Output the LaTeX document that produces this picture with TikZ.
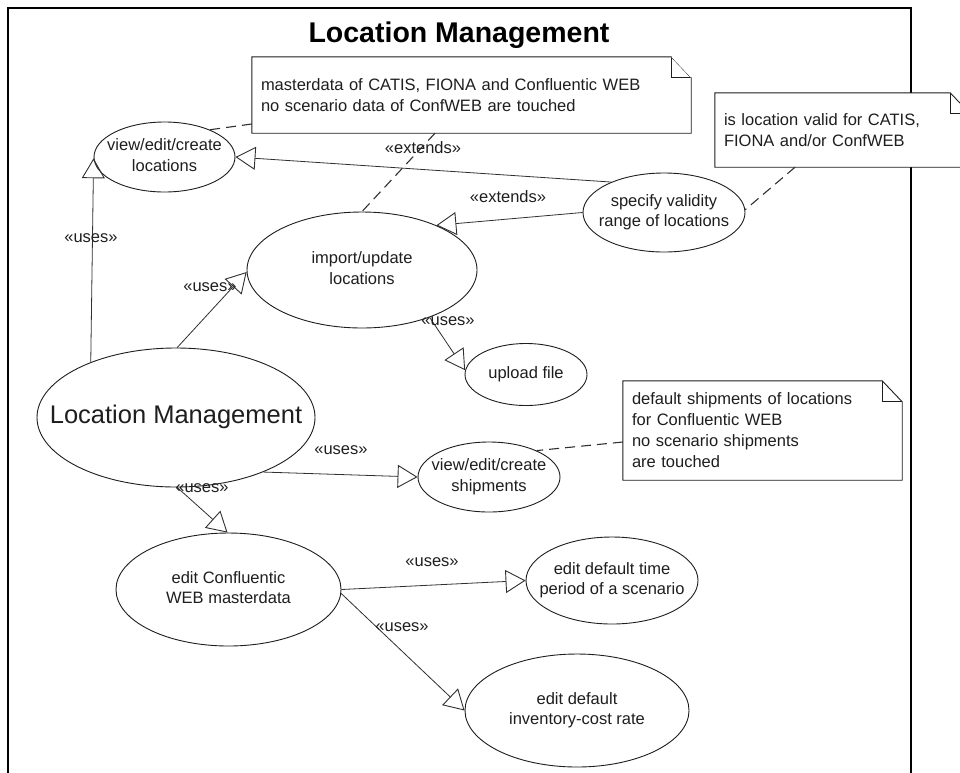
\documentclass[tikz,border=0pt]{standalone}
\usepackage{fontspec}
\setmainfont{Liberation Sans}
\usetikzlibrary{arrows.meta,shapes.geometric}
\definecolor{ink}{HTML}{1E1E1E}
\definecolor{edgecol}{HTML}{303030}
\newcommand\ucfont{\fontsize{16.5pt}{20.5pt}\selectfont}
\newcommand\notefont{\fontsize{16.5pt}{21pt}\selectfont}
\newcommand\uctext[1]{\raisebox{-0.25em}[0pt][0pt]{\makebox[0pt]{\begin{tabular}{@{}c@{}}#1\end{tabular}}}}
\begin{document}
\begin{tikzpicture}[x=1pt,y=-1pt,
 uc/.style={ellipse, draw=ink, line width=0.9pt, fill=white, inner sep=0pt, text=ink, font=\ucfont},
 lbl/.style={text=ink, font=\ucfont, inner sep=0pt},
 uses/.style={draw=edgecol, line width=0.8pt, -{Triangle[open, length=20pt, width=23pt, line width=0.9pt]}},
 dashline/.style={draw=edgecol, line width=1.1pt, dash pattern=on 10pt off 6pt},
 notebox/.style={rectangle, inner xsep=9pt, inner ysep=0pt, align=left, text=ink, font=\notefont},
 noteline/.style={draw=ink, line width=0.9pt, line join=miter}
]
\useasboundingbox (0,0) rectangle (960,772);
\clip (0,0) rectangle (960,772);
\fill[white] (0,0) rectangle (960,772);
% frame
\draw[black, line width=1.6pt] (8,8) rectangle (911,800);
\node[font=\fontsize{28.5pt}{34pt}\selectfont\bfseries, text=black, anchor=base, inner sep=0pt] (title) at (459,42) {Location Management};

% use cases
\node[uc, minimum width=141pt, minimum height=70pt] (vl) at (164.5,157) {\uctext{view/edit/create\\locations}};
\node[uc, minimum width=230pt, minimum height=116pt] (imp) at (362,270) {\uctext{import/update\\locations}};
\node[uc, minimum width=162pt, minimum height=79pt] (spec) at (664,212.5) {\uctext{specify validity\\range of locations}};
\node[uc, minimum width=122pt, minimum height=62pt] (up) at (526,374.5) {\uctext{upload file}};
\node[uc, minimum width=278pt, minimum height=139pt, font=\fontsize{25.5pt}{30pt}\selectfont] (lm) at (176,417.5) {\uctext{Location Management}};
\node[uc, minimum width=142pt, minimum height=70pt] (ship) at (489,477) {\uctext{view/edit/create\\shipments}};
\node[uc, minimum width=225pt, minimum height=113pt] (ecw) at (228.5,589.5) {\uctext{edit Confluentic\\WEB masterdata}};
\node[uc, minimum width=172pt, minimum height=87pt] (time) at (612,580.5) {\uctext{edit default time\\period of a scenario}};
\node[uc, minimum width=224pt, minimum height=113pt] (inv) at (577,710.5) {\uctext{edit default\\inventory-cost rate}};

% relations
\draw[uses] (lm.147.6) -- (vl.181);
\draw[uses] (spec.150) -- (vl.0);
\draw[uses] (spec.180) -- (imp.31.4);
\draw[uses] (lm.89) -- (imp.181);
\draw[uses] (imp.325.6) -- (up.176.7);
\draw[uses] (lm.328.9) -- (ship.180);
\draw[uses] (lm.271.6) -- (ecw.91.5);
\draw[uses] (ecw.0) -- (time.180);
\draw[uses] (ecw.358.2) -- (inv.180);

% labels
\node[lbl] (l1) at (91,238) {«uses»};
\node[lbl] (l2) at (423,148) {«extends»};
\node[lbl] (l3) at (508,197) {«extends»};
\node[lbl] (l4) at (210,287) {«uses»};
\node[lbl] (l5) at (448,321) {«uses»};
\node[lbl] (l6) at (341,450) {«uses»};
\node[lbl] (l7) at (202,488) {«uses»};
\node[lbl] (l8) at (432,562) {«uses»};
\node[lbl] (l9) at (402,627) {«uses»};

% notes
\node[notebox, fill=white, text width=421pt, minimum width=439pt, minimum height=76pt] (n1) at (471.5,95) {masterdata of CATIS, FIONA and Confluentic WEB\\no scenario data of ConfWEB are touched};
\node[notebox, fill=white, text width=237pt, minimum width=255pt, minimum height=74pt] (n2) at (842.5,130) {is location valid for CATIS,\\FIONA and/or ConfWEB};
\node[notebox, fill=white, text width=261pt, minimum width=279pt, minimum height=99pt] (n3) at (762.5,430.5) {default shipments of locations\\for Confluentic WEB\\no scenario shipments\\are touched};
\foreach \n in {n1,n2,n3} {
  \fill[white] ([xshift=-20pt]\n.north east) rectangle ([yshift=-21pt]\n.north east);
  \draw[noteline] (\n.south west) -- (\n.north west) -- ([xshift=-20pt]\n.north east) -- ([yshift=-21pt]\n.north east) -- (\n.south east) -- cycle;
  \draw[noteline] ([xshift=-20pt]\n.north east) |- ([yshift=-21pt]\n.north east);
}
\fill[white] ([xshift=-20pt]n1.north east) -- ([yshift=-21pt]n1.north east) -- (n1.north east) -- cycle;

% note anchors
\draw[dashline] ([yshift=-29pt]n1.west) -- (vl.31.8);
\draw[dashline] ([xshift=-36.5pt]n1.south) -- (imp.90);
\draw[dashline] ([xshift=-47.5pt]n2.south) -- (spec.2);
\draw[dashline] ([yshift=-11.5pt]n3.west) -- (ship.29.5);
\end{tikzpicture}
\end{document}
